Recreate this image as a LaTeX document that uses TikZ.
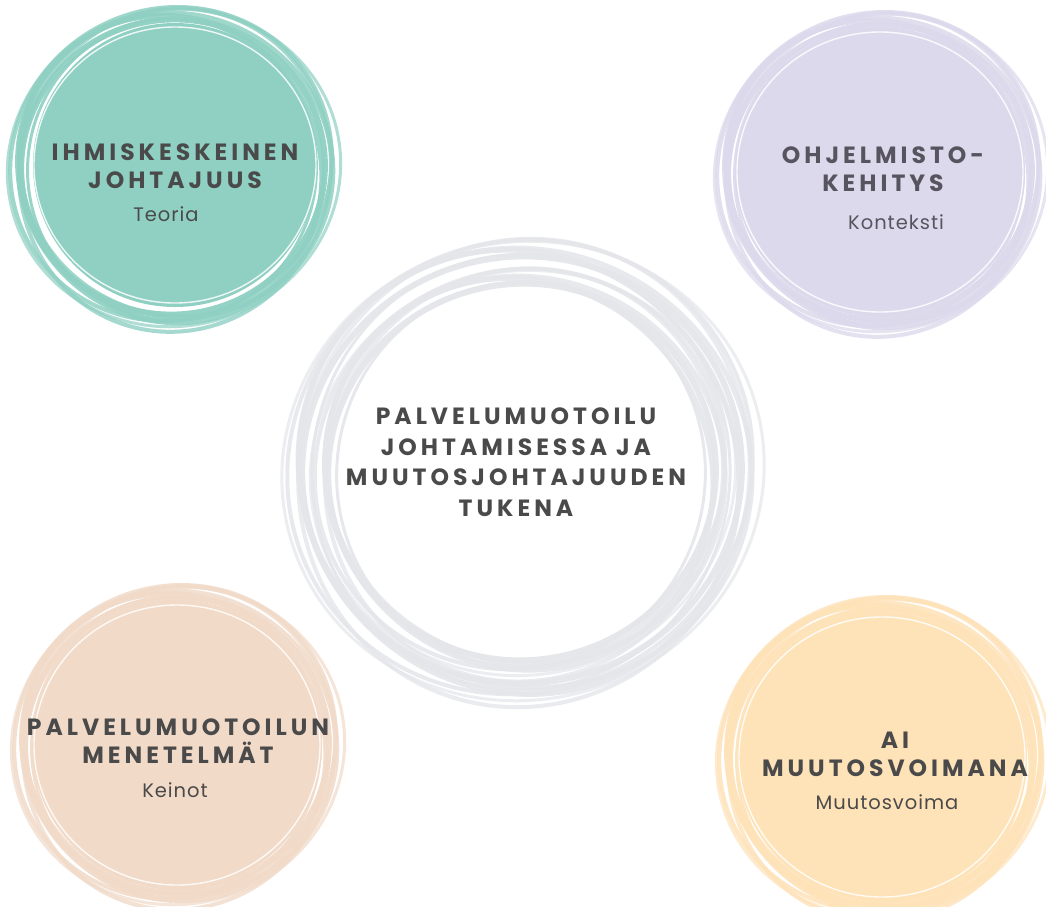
\documentclass[tikz,border=0pt]{standalone}
\usepackage{fontspec}
\setmainfont{Poppins}
\newfontfamily\headfont[LetterSpace=17]{Poppins}
\newfontfamily\subfont[LetterSpace=5]{Poppins}
\definecolor{teal}{HTML}{8FD0C3}
\definecolor{lilac}{HTML}{DCD9EC}
\definecolor{peach}{HTML}{F1DAC8}
\definecolor{butter}{HTML}{FEE2B8}
\definecolor{mist}{HTML}{E5E6EA}
\definecolor{ink}{HTML}{4A4A4A}
\definecolor{inkviolet}{HTML}{57545F}
\tikzset{
  head/.style={font=\headfont\bfseries\fontsize{23.5}{28}\selectfont, text=ink, align=center, inner sep=0pt},
  sub/.style={font=\subfont\fontsize{19.5}{22}\selectfont, text=ink, inner sep=0pt},
}
% hand-painted ring: several slightly shifted, rotated ellipses
% #1,#2 centre, #3 radius, #4 colour
\newcommand\paintring[4]{%
  \foreach \dx/\dy/\a/\b/\r/\w/\o in {
      0/0/1.00/0.97/10/6/0.95, 3/-2/1.04/0.99/-25/5/0.85, -3/2/0.98/1.03/40/5.5/0.9,
      2/3/1.07/1.02/70/4/0.8, -2/-3/1.02/1.07/-60/4/0.85, 1/1/1.10/1.04/15/3/0.7,
      -1/2/0.95/0.99/-5/3/0.9}{%
    \draw[#4, line width=\w pt, opacity=\o,
          rotate around={\r:(#1+\dx,#2+\dy)}]
      (#1+\dx,#2+\dy) ellipse [x radius={#3*\a}, y radius={#3*\b}];
  }%
}
\begin{document}
\begin{tikzpicture}[x=1pt,y=-1pt]
\useasboundingbox (0,0) rectangle (1046,906);
\fill[white] (0,0) rectangle (1046,906);

% central ring, no fill
\paintring{522}{470}{220}{mist}
\paintring{522}{472}{194}{mist}

% teal disc
\fill[teal] (175,165) circle [radius=142];
\paintring{173}{167}{152}{teal}
\draw[white, line width=1.4pt, opacity=0.85] (175,165) ellipse [x radius=141, y radius=138];

% lilac disc
\fill[lilac] (880,172) circle [radius=145];
\paintring{880}{172}{152}{lilac}
\draw[white, line width=1.4pt, opacity=0.85] (880,172) ellipse [x radius=143, y radius=140];

% peach disc
\fill[peach] (177,745) circle [radius=145];
\paintring{177}{745}{152}{peach}
\draw[white, line width=1.4pt, opacity=0.85] (177,745) ellipse [x radius=143, y radius=140];

% butter disc
\fill[butter] (882,757) circle [radius=145];
\paintring{882}{757}{152}{butter}
\draw[white, line width=1.4pt, opacity=0.85] (882,757) ellipse [x radius=143, y radius=140];

% labels
\node[head] (t1) at (175,166) {IHMISKESKEINEN\\JOHTAJUUS};
\node[sub] (s1) at (166,214) {Teoria};

\node[head, text=inkviolet] (t2) at (883,169) {OHJELMISTO-\\KEHITYS};
\node[sub, text=inkviolet] (s2) at (896,222) {Konteksti};

\node[head, font=\headfont\bfseries\fontsize{23.5}{30.5}\selectfont] (t0) at (516,462)
  {PALVELUMUOTOILU\\JOHTAMISESSA JA\\MUUTOSJOHTAJUUDEN\\TUKENA};

\node[head] (t3) at (178,741) {PALVELUMUOTOILUN\\MENETELMÄT};
\node[sub] (s3) at (175,790) {Keinot};

\node[head] (t4) at (895,754) {AI\\MUUTOSVOIMANA};
\node[sub] (s4) at (887,802) {Muutosvoima};
\end{tikzpicture}
\end{document}
